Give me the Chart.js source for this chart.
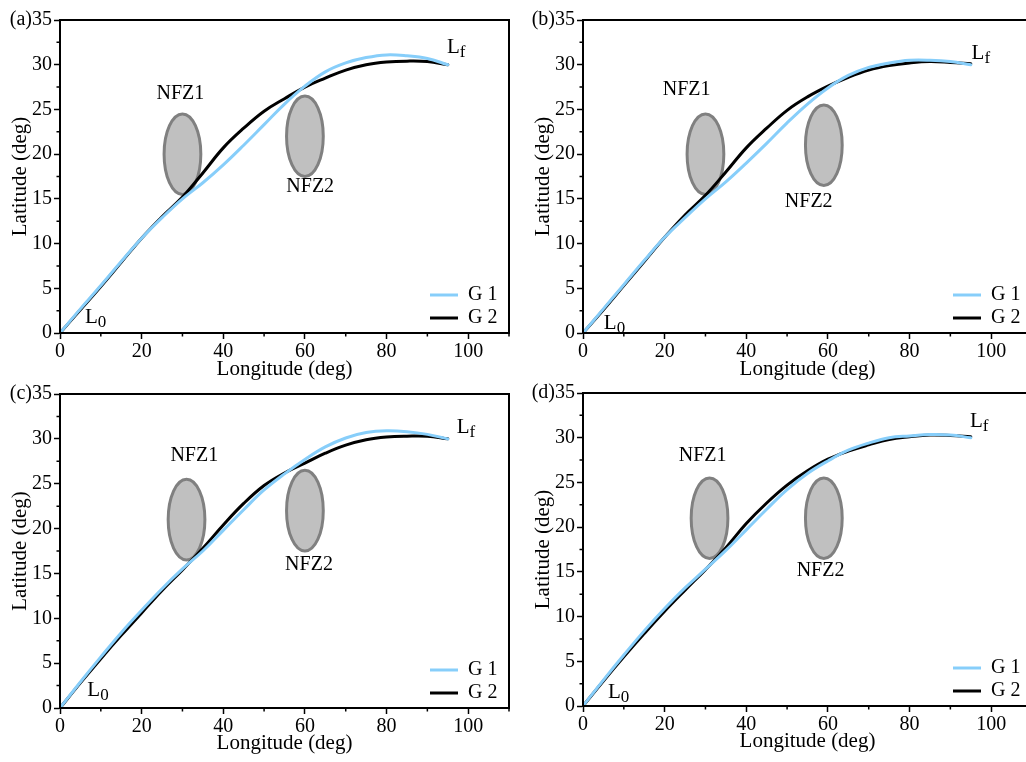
<!DOCTYPE html>
<html>
<head>
<meta charset="utf-8">
<script src="https://cdn.jsdelivr.net/npm/chart.js@4.4.0/dist/chart.umd.min.js"></script>
<style>
  html, body { margin: 0; padding: 0; background: #fff; overflow: hidden; width: 1026px; height: 762px; }
  canvas { position: absolute; }
</style>
</head>
<body>
<canvas id="chart-a"></canvas>
<canvas id="chart-b"></canvas>
<canvas id="chart-c"></canvas>
<canvas id="chart-d"></canvas>
<script>
// longitude grid shared by all trajectories (deg)
const longitude = [0, 5, 10, 15, 20, 25, 30, 35, 40, 45, 50, 55, 60, 65, 70, 75, 80, 85, 90, 95];

// latitude of each guidance trajectory (deg)
const g1A = [0, 2.7, 5.3, 8.0, 10.6, 12.9, 15.0, 16.8, 18.8, 21.0, 23.3, 25.6, 27.6, 29.2, 30.2, 30.8, 31.1, 31.0, 30.7, 30.0];
const g2A = [0, 2.6, 5.2, 7.9, 10.6, 13.0, 15.2, 17.9, 20.7, 22.9, 24.8, 26.2, 27.5, 28.5, 29.4, 30.0, 30.3, 30.4, 30.35, 30.0];
const g1B = [0, 2.7, 5.4, 8.1, 10.7, 12.9, 15.0, 16.9, 19.0, 21.2, 23.5, 25.6, 27.4, 28.8, 29.7, 30.2, 30.5, 30.5, 30.35, 30.0];
const g2B = [0, 2.6, 5.3, 8.0, 10.7, 13.2, 15.4, 18.0, 20.7, 22.9, 24.9, 26.4, 27.6, 28.6, 29.4, 29.9, 30.2, 30.35, 30.25, 30.1];
const g1C = [0, 2.9, 5.7, 8.4, 10.9, 13.3, 15.5, 17.5, 19.8, 22.1, 24.3, 26.1, 27.7, 29.1, 30.1, 30.7, 30.9, 30.8, 30.5, 30.0];
const g2C = [0, 2.8, 5.5, 8.1, 10.6, 13.1, 15.4, 17.8, 20.4, 22.8, 24.8, 26.2, 27.3, 28.4, 29.3, 29.9, 30.2, 30.3, 30.3, 30.0];
const g1D = [0, 2.9, 5.7, 8.4, 10.9, 13.2, 15.3, 17.4, 19.7, 22.0, 24.2, 26.0, 27.4, 28.6, 29.4, 30.0, 30.2, 30.35, 30.3, 30.0];
const g2D = [0, 2.8, 5.5, 8.1, 10.6, 12.95, 15.25, 17.7, 20.4, 22.7, 24.7, 26.3, 27.6, 28.5, 29.2, 29.8, 30.1, 30.3, 30.25, 30.1];

// no-fly zone centres per panel (a..d) and radius (deg)
const nfz1Lon = [30, 30, 31, 31];
const nfz1Lat = [20, 20, 21, 21];
const nfz2Lon = [60, 59, 60, 59];
const nfz2Lat = [22, 21, 22, 21];
const nfzRadius = 4.5;

// axis ticks
const xTicks = [0, 20, 40, 60, 80, 100];
const xMinor = [10, 30, 50, 70, 90, 110];
const yTicks = [0, 5, 10, 15, 20, 25, 30, 35];
const yMinor = [2.5, 7.5, 12.5, 17.5, 22.5, 27.5, 32.5];

// text labels, in data coordinates
const nfz1Text = [[29.5, 26.8], [25.4, 27.2], [32.9, 28.1], [29.3, 28.0]];
const nfz2Text = [[61.3, 16.3], [55.3, 14.7], [61.0, 16.0], [58.2, 15.1]];
const startText = [[6.1, 1.1], [5.1, 0.5], [6.7, 1.3], [6.1, 0.9]];
const endText = [[94.8, 31.3], [95.2, 30.6], [97.2, 30.7], [94.8, 31.2]];

const SERIF = "'Liberation Serif', 'Times New Roman', serif";
Chart.defaults.font.family = SERIF;
Chart.defaults.color = '#000';

const panels = [
  { id: 'chart-a', letter: '(a)', left: 0, top: 0, h: 380, yw: 60, pr: 11, ytp: 10, xtp: 0, g1: g1A, g2: g2A },
  { id: 'chart-b', letter: '(b)', left: 520, top: 0, h: 380, yw: 63, pr: 8, ytp: 13, xtp: 0, g1: g1B, g2: g2B },
  { id: 'chart-c', letter: '(c)', left: 0, top: 374, h: 381, yw: 60, pr: 11, ytp: 10, xtp: 1.5, g1: g1C, g2: g2C },
  { id: 'chart-d', letter: '(d)', left: 520, top: 373, h: 380, yw: 63, pr: 8, ytp: 13, xtp: 1.5, g1: g1D, g2: g2D }
];

const toPoints = lat => longitude.map((lon, i) => ({ x: lon, y: lat[i] }));

function drawSubLabel(ctx, x, y, main, sub) {
  ctx.textAlign = 'left';
  ctx.textBaseline = 'alphabetic';
  ctx.font = '21px ' + SERIF;
  ctx.fillText(main, x, y);
  const w = ctx.measureText(main).width;
  ctx.font = '17px ' + SERIF;
  ctx.fillText(sub, x + w, y + 4);
}

// no-fly zones, frame, minor ticks, labels and legend
const decor = {
  id: 'decor',
  beforeDatasetsDraw(chart, args, opts) {
    const { ctx, scales: { x, y } } = chart;
    ctx.save();
    ctx.fillStyle = '#c0c0c0';
    ctx.strokeStyle = '#808080';
    ctx.lineWidth = 3;
    opts.zones.forEach(z => {
      const cx = x.getPixelForValue(z[0]);
      const cy = y.getPixelForValue(z[1]);
      const rx = x.getPixelForValue(z[0] + nfzRadius) - cx;
      const ry = cy - y.getPixelForValue(z[1] + nfzRadius);
      ctx.beginPath();
      ctx.ellipse(cx, cy, rx, ry, 0, 0, Math.PI * 2);
      ctx.fill();
      ctx.stroke();
    });
    ctx.restore();
  },
  afterDraw(chart, args, opts) {
    const { ctx, chartArea: a, scales: { x, y } } = chart;
    ctx.save();
    ctx.strokeStyle = '#000';
    ctx.lineWidth = 2;
    ctx.strokeRect(a.left, a.top, a.right - a.left, a.bottom - a.top);

    ctx.lineWidth = 1.5;
    ctx.beginPath();
    xMinor.forEach(v => {
      const px = x.getPixelForValue(v);
      ctx.moveTo(px, a.bottom);
      ctx.lineTo(px, a.bottom + 3.5);
    });
    yMinor.forEach(v => {
      const py = y.getPixelForValue(v);
      ctx.moveTo(a.left, py);
      ctx.lineTo(a.left - 3.5, py);
    });
    ctx.stroke();

    ctx.fillStyle = '#000';
    ctx.font = '20px ' + SERIF;
    ctx.textAlign = 'right';
    ctx.textBaseline = 'middle';
    ctx.fillText(opts.letter, a.left - 28, a.top);

    ctx.textAlign = 'center';
    ctx.fillText('NFZ1', x.getPixelForValue(opts.nfz1[0]), y.getPixelForValue(opts.nfz1[1]));
    ctx.fillText('NFZ2', x.getPixelForValue(opts.nfz2[0]), y.getPixelForValue(opts.nfz2[1]));

    drawSubLabel(ctx, x.getPixelForValue(opts.start[0]), y.getPixelForValue(opts.start[1]), 'L', '0');
    drawSubLabel(ctx, x.getPixelForValue(opts.end[0]), y.getPixelForValue(opts.end[1]), 'L', 'f');

    // legend, bottom right inside the frame
    ctx.font = '20px ' + SERIF;
    ctx.textAlign = 'left';
    ctx.textBaseline = 'middle';
    ctx.lineWidth = 3;
    chart.data.datasets.forEach((ds, i) => {
      const ly = a.bottom - 38 + i * 23;
      ctx.strokeStyle = ds.borderColor;
      ctx.beginPath();
      ctx.moveTo(a.right - 79, ly);
      ctx.lineTo(a.right - 51, ly);
      ctx.stroke();
      ctx.fillText(ds.label, a.right - 41, ly);
    });
    ctx.restore();
  }
};

panels.forEach((p, k) => {
  const canvas = document.getElementById(p.id);
  canvas.width = 520;
  canvas.height = p.h;
  canvas.style.left = p.left + 'px';
  canvas.style.top = p.top + 'px';

  new Chart(canvas, {
    type: 'line',
    data: {
      datasets: [
        { label: 'G 1', data: toPoints(p.g1), borderColor: '#87cefa', borderWidth: 3 },
        { label: 'G 2', data: toPoints(p.g2), borderColor: '#000000', borderWidth: 3 }
      ]
    },
    options: {
      responsive: false,
      animation: false,
      layout: { padding: { top: 20, left: 0, right: p.pr, bottom: 0 } },
      elements: {
        point: { radius: 0 },
        line: { tension: 0.4, fill: false, borderCapStyle: 'round', borderJoinStyle: 'round' }
      },
      scales: {
        x: {
          type: 'linear',
          min: 0,
          max: 110,
          afterBuildTicks: s => { s.ticks = xTicks.map(v => ({ value: v })); },
          afterFit: s => { s.height = 47; },
          ticks: { font: { size: 20, lineHeight: 1 }, padding: 3, maxRotation: 0, color: '#000' },
          grid: { drawOnChartArea: false, tickLength: 6, tickColor: '#000', tickWidth: 1.5 },
          border: { color: '#000', width: 2 },
          title: {
            display: true,
            text: 'Longitude (deg)',
            font: { size: 21, lineHeight: 1 },
            padding: { top: 0, bottom: p.xtp },
            color: '#000'
          }
        },
        y: {
          type: 'linear',
          min: 0,
          max: 35,
          afterBuildTicks: s => { s.ticks = yTicks.map(v => ({ value: v })); },
          afterFit: s => { s.width = p.yw; },
          ticks: { font: { size: 20, lineHeight: 1 }, padding: 2, color: '#000' },
          grid: { drawOnChartArea: false, tickLength: 6, tickColor: '#000', tickWidth: 1.5 },
          border: { color: '#000', width: 2 },
          title: {
            display: true,
            text: 'Latitude (deg)',
            font: { size: 21, lineHeight: 1 },
            padding: { top: p.ytp, bottom: 0 },
            color: '#000'
          }
        }
      },
      plugins: {
        legend: { display: false },
        tooltip: { enabled: false },
        decor: {
          letter: p.letter,
          zones: [[nfz1Lon[k], nfz1Lat[k]], [nfz2Lon[k], nfz2Lat[k]]],
          nfz1: nfz1Text[k],
          nfz2: nfz2Text[k],
          start: startText[k],
          end: endText[k]
        }
      }
    },
    plugins: [decor]
  });
});
</script>
</body>
</html>
